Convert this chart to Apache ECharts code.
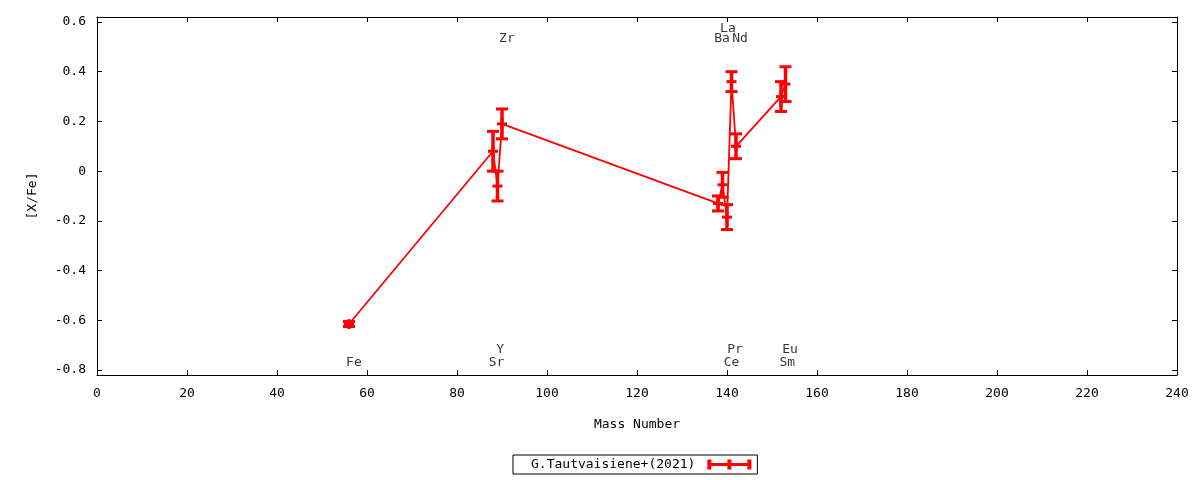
<!DOCTYPE html>
<html>
<head>
    <meta charset="utf-8">
    <title>[X/Fe] vs Mass Number</title>
    <script src="https://cdn.jsdelivr.net/npm/echarts@6.0.0/dist/echarts.min.js"></script>
    <style>
        html, body { margin: 0; padding: 0; background: #fff; }
    </style>
</head>
<body>
    <div id="main" style="width: 1200px;height:480px;"></div>
    <script type="text/javascript">
        // element abundances
        var elements = ['Fe', 'Sr', 'Y', 'Zr', 'Ba', 'La', 'Ce', 'Pr', 'Nd', 'Sm', 'Eu'];
        var massNumbers = [56, 88, 89, 90, 138, 139, 140, 141, 142, 152, 153];
        var xfe = [-0.615, 0.08, -0.06, 0.19, -0.13, -0.055, -0.185, 0.36, 0.10, 0.30, 0.35];
        var xfeErr = [0.01, 0.08, 0.06, 0.06, 0.03, 0.05, 0.05, 0.04, 0.05, 0.06, 0.07];

        // element name labels (placed in data coordinates)
        var labelNames = ['Fe', 'Sr', 'Y', 'Zr', 'Ba', 'La', 'Nd', 'Ce', 'Pr', 'Sm', 'Eu'];
        var labelX = [57.1, 88.8, 89.6, 91.1, 138.9, 140.2, 142.9, 141.0, 141.8, 153.4, 154.0];
        var labelY = [-0.77, -0.77, -0.716, 0.535, 0.535, 0.575, 0.535, -0.77, -0.716, -0.77, -0.716];

        var yTicks = [-0.8, -0.6, -0.4, -0.2, 0, 0.2, 0.4, 0.6];

        var seriesName = 'G.Tautvaisiene+(2021)';
        var font = 'DejaVu Sans Mono';
        var red = '#ff0000';

        var points = massNumbers.map(function (m, i) { return [m, xfe[i]]; });
        var errData = massNumbers.map(function (m, i) { return [m, xfe[i], xfeErr[i]]; });
        var labelData = labelNames.map(function (n, i) {
            return { name: n, value: [labelX[i], labelY[i]] };
        });

        var chartDom = document.getElementById('main');
        var myChart = echarts.init(chartDom);
        var option;

        function yFmt(v) {
            return Math.abs(v) < 1e-9 ? '0' : v.toFixed(1);
        }

        function renderErr(params, api) {
            var x = api.value(0), y = api.value(1), e = api.value(2);
            var c = api.coord([x, y]);
            var lo = api.coord([x, y - e]);
            var hi = api.coord([x, y + e]);
            var hw = 6;
            var st = { stroke: red, lineWidth: 3 };
            return {
                type: 'group',
                children: [
                    { type: 'line', shape: { x1: c[0], y1: lo[1], x2: c[0], y2: hi[1] }, style: { stroke: red, lineWidth: 3.5 } },
                    { type: 'line', shape: { x1: c[0] - hw, y1: lo[1], x2: c[0] + hw, y2: lo[1] }, style: st },
                    { type: 'line', shape: { x1: c[0] - hw, y1: hi[1], x2: c[0] + hw, y2: hi[1] }, style: st },
                    { type: 'line', shape: { x1: c[0] - 5, y1: c[1], x2: c[0] + 5, y2: c[1] }, style: st },
                    { type: 'line', shape: { x1: c[0], y1: c[1] - 5, x2: c[0], y2: c[1] + 5 }, style: st }
                ]
            };
        }

        var axisLine = { show: true, onZero: false, lineStyle: { color: '#000', width: 1 } };
        var tick = { inside: true, length: 5, lineStyle: { color: '#000' } };
        var labelStyle = { color: '#000', fontFamily: font, fontSize: 13 };

        option = {
            animation: false,
            grid: { left: 97, right: 23, top: 17, bottom: 105 },
            xAxis: [{
                type: 'value',
                min: 0, max: 240, interval: 20,
                name: 'Mass Number',
                nameLocation: 'middle',
                nameGap: 43,
                nameTextStyle: labelStyle,
                axisLine: axisLine,
                axisTick: tick,
                axisLabel: Object.assign({ margin: 12 }, labelStyle),
                splitLine: { show: false }
            }, {
                type: 'value',
                position: 'top',
                min: 0, max: 240, interval: 20,
                axisLine: axisLine,
                axisTick: tick,
                axisLabel: { show: false },
                splitLine: { show: false }
            }],
            yAxis: [{
                type: 'value',
                min: -0.82, max: 0.62,
                name: '[X/Fe]',
                nameLocation: 'middle',
                nameGap: 58,
                nameRotate: 90,
                nameTextStyle: labelStyle,
                axisLine: axisLine,
                axisTick: Object.assign({ customValues: yTicks }, tick),
                axisLabel: Object.assign({ margin: 11, customValues: yTicks, formatter: yFmt }, labelStyle),
                splitLine: { show: false }
            }, {
                type: 'value',
                position: 'right',
                min: -0.82, max: 0.62,
                axisLine: axisLine,
                axisTick: Object.assign({ customValues: yTicks }, tick),
                axisLabel: { show: false, customValues: yTicks },
                splitLine: { show: false }
            }],
            legend: {
                data: [seriesName],
                top: 455,
                left: 513,
                align: 'right',
                orient: 'horizontal',
                borderColor: '#000',
                borderWidth: 1,
                borderRadius: 0,
                padding: [3, 6, 3, 18],
                itemWidth: 44,
                itemHeight: 10,
                icon: 'path://M0,0h4v10h-4zM20,0h4v10h-4zM40,0h4v10h-4zM0,3.5h44v3h-44z',
                textStyle: { color: '#000', fontFamily: font, fontSize: 13, padding: [0, 7, 0, 0] },
                selectedMode: false
            },
            series: [{
                name: seriesName,
                type: 'line',
                data: points,
                showSymbol: false,
                symbol: 'none',
                lineStyle: { color: red, width: 1.8 },
                itemStyle: { color: red },
                z: 2
            }, {
                name: seriesName,
                type: 'custom',
                renderItem: renderErr,
                data: errData,
                itemStyle: { color: red },
                encode: { x: 0, y: 1 },
                z: 3
            }, {
                name: 'labels',
                type: 'scatter',
                data: labelData,
                symbolSize: 1,
                itemStyle: { color: 'rgba(0,0,0,0)' },
                label: {
                    show: true,
                    position: 'inside',
                    formatter: '{b}',
                    color: '#000',
                    fontFamily: font,
                    fontSize: 13
                },
                silent: true,
                z: 4
            }]
        };

        option && myChart.setOption(option);
    </script>
</body>
</html>
